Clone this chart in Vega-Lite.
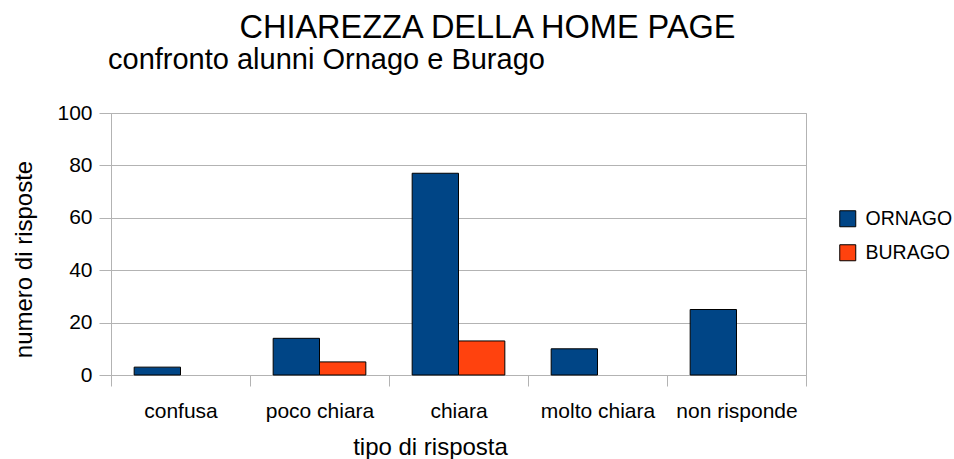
{
  "$schema": "https://vega.github.io/schema/vega-lite/v6.json",
  "background": "white",
  "padding": {"left": 12, "top": 12, "right": 0, "bottom": 0},
  "title": {
    "text": "CHIAREZZA DELLA HOME PAGE",
    "anchor": "middle",
    "frame": "group",
    "fontSize": 32.5,
    "font": "Liberation Sans",
    "fontWeight": "normal",
    "color": "#000000",
    "baseline": "top",
    "offset": 1,
    "dx": 29
  },
  "data": {
    "values": [
      {"tipo": "confusa", "scuola": "ORNAGO", "risposte": 3},
      {"tipo": "confusa", "scuola": "BURAGO", "risposte": 0},
      {"tipo": "poco chiara", "scuola": "ORNAGO", "risposte": 14},
      {"tipo": "poco chiara", "scuola": "BURAGO", "risposte": 5},
      {"tipo": "chiara", "scuola": "ORNAGO", "risposte": 77},
      {"tipo": "chiara", "scuola": "BURAGO", "risposte": 13},
      {"tipo": "molto chiara", "scuola": "ORNAGO", "risposte": 10},
      {"tipo": "molto chiara", "scuola": "BURAGO", "risposte": 0},
      {"tipo": "non risponde", "scuola": "ORNAGO", "risposte": 25},
      {"tipo": "non risponde", "scuola": "BURAGO", "risposte": 0}
    ]
  },
  "vconcat": [
    {
      "title": {
        "text": "confronto alunni Ornago e Burago",
        "anchor": "start",
        "frame": "group",
        "fontSize": 29,
        "font": "Liberation Sans",
        "fontWeight": "normal",
        "color": "#000000",
        "baseline": "alphabetic",
        "offset": 4,
        "dx": -3
      },
      "width": 695,
      "height": 262,
      "mark": {"type": "bar", "stroke": "#000000", "strokeWidth": 1},
      "encoding": {
        "x": {
          "field": "tipo",
          "type": "nominal",
          "sort": ["confusa", "poco chiara", "chiara", "molto chiara", "non risponde"],
          "scale": {"paddingInner": 0, "paddingOuter": 0},
          "axis": {
            "title": "tipo di risposta",
            "labelAngle": 0,
            "tickBand": "extent",
            "tickSize": 11,
            "labelPadding": 14,
            "labelFontSize": 21,
            "titleFontSize": 24,
            "titlePadding": 14,
            "titleX": 319,
            "titleAnchor": null,
            "titleAlign": "center"
          }
        },
        "xOffset": {
          "field": "scuola",
          "type": "nominal",
          "sort": ["ORNAGO", "BURAGO"],
          "scale": {"paddingInner": 0, "paddingOuter": 0.5}
        },
        "y": {
          "field": "risposte",
          "type": "quantitative",
          "scale": {"domain": [0, 100], "nice": false},
          "axis": {
            "title": "numero di risposte",
            "values": [0, 20, 40, 60, 80, 100],
            "tickSize": 12,
            "labelPadding": 7,
            "labelFontSize": 21,
            "titleFontSize": 24,
            "titlePadding": 20,
            "titleY": 146
          }
        },
        "color": {
          "field": "scuola",
          "type": "nominal",
          "sort": ["ORNAGO", "BURAGO"],
          "scale": {"domain": ["ORNAGO", "BURAGO"], "range": ["#004586", "#ff420e"]},
          "legend": {
            "title": null,
            "orient": "none",
            "legendX": 727,
            "legendY": 96,
            "symbolType": "square",
            "symbolSize": 256,
            "symbolStrokeColor": "#000000",
            "symbolStrokeWidth": 1,
            "symbolOpacity": 1,
            "labelFontSize": 19.5,
            "labelOffset": 8,
            "rowPadding": 13,
            "padding": 0
          }
        },
        "strokeOpacity": {
          "condition": {"test": "datum.risposte > 0", "value": 1},
          "value": 0
        }
      }
    }
  ],
  "config": {
    "font": "Liberation Sans",
    "view": {"stroke": "#b3b3b3", "strokeWidth": 1},
    "axis": {
      "domainColor": "#b3b3b3",
      "tickColor": "#b3b3b3",
      "gridColor": "#b3b3b3",
      "labelColor": "#000000",
      "titleColor": "#000000",
      "titleFontWeight": "normal",
      "labelFont": "Liberation Sans",
      "titleFont": "Liberation Sans"
    },
    "axisX": {"grid": false},
    "axisY": {"grid": true},
    "legend": {"labelFont": "Liberation Sans", "labelColor": "#000000"}
  }
}
